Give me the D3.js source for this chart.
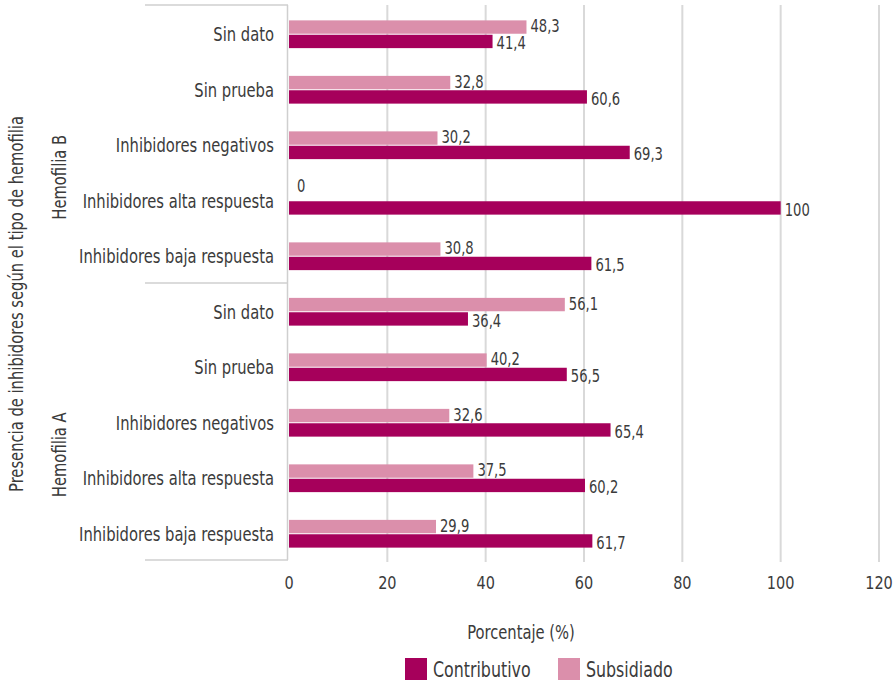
<!DOCTYPE html>
<html><head><meta charset="utf-8">
<script src="https://cdn.jsdelivr.net/npm/d3@7"></script>
<style>
html,body{margin:0;padding:0;background:#fff;}
text{font-family:"DejaVu Sans Condensed","DejaVu Sans","Roboto",sans-serif;fill:#3b3b3b;}
</style></head>
<body><svg id="c" width="895" height="683"></svg>
<script>
const groups = ["Hemofilia B", "Hemofilia A"];
const categories = ["Sin dato", "Sin prueba", "Inhibidores negativos", "Inhibidores alta respuesta", "Inhibidores baja respuesta"];
const series = ["Subsidiado", "Contributivo"];
const contributivoB = [41.4, 60.6, 69.3, 100, 61.5];
const subsidiadoB = [48.3, 32.8, 30.2, 0, 30.8];
const contributivoA = [36.4, 56.5, 65.4, 60.2, 61.7];
const subsidiadoA = [56.1, 40.2, 32.6, 37.5, 29.9];
const xTicks = [0, 20, 40, 60, 80, 100, 120];
const legendItems = ["Contributivo", "Subsidiado"];
const colors = {Contributivo: "#A6005B", Subsidiado: "#DB8FAB"};

const rows = [];
groups.forEach((g, gi) => {
  const c = gi === 0 ? contributivoB : contributivoA;
  const s = gi === 0 ? subsidiadoB : subsidiadoA;
  categories.forEach((cat, i) => rows.push({key: g + "|" + cat, group: g, cat, Contributivo: c[i], Subsidiado: s[i]}));
});

const svg = d3.select("#c");
const pL = 289, pR = 879, pT = 5, pB = 560;
const x = d3.scaleLinear().domain([0, 120]).range([pL, pR]);
const y = d3.scaleBand().domain(rows.map(r => r.key)).range([pT + 1.5, pB + 1.5]).paddingInner(0.5).paddingOuter(0.25);
const ys = d3.scaleBand().domain(series).range([0, y.bandwidth()]).paddingInner(0.07);
const fmt = v => d3.format(".1f")(v).replace(/\.0$/, "").replace(".", ",");
const SX = 0.82;

// gridlines
svg.append("g").selectAll("line").data(xTicks.filter(t => t > 0)).join("line")
  .attr("x1", d => x(d)).attr("x2", d => x(d)).attr("y1", pT).attr("y2", pB + 2)
  .attr("stroke", "#d9d9d9").attr("stroke-width", 2);

// category axis lines / bracket
const ax = svg.append("g").attr("stroke", "#cfcfcf").attr("stroke-width", 1.5);
ax.append("line").attr("x1", 287.5).attr("x2", 287.5).attr("y1", pT).attr("y2", pB);
const sepY = [pT, (pT + pB) / 2 + 0.5, pB];
ax.selectAll("line.sep").data(sepY).join("line").attr("class", "sep")
  .attr("x1", 145).attr("x2", 288).attr("y1", d => d).attr("y2", d => d);

// bars
const gRow = svg.append("g").selectAll("g").data(rows).join("g").attr("transform", d => `translate(0,${y(d.key)})`);
gRow.selectAll("rect").data(d => series.map(s => ({s, v: d[s]}))).join("rect")
  .attr("x", x(0)).attr("y", d => ys(d.s)).attr("height", ys.bandwidth())
  .attr("width", d => x(d.v) - x(0)).attr("fill", d => colors[d.s]);
gRow.selectAll("text").data(d => series.map(s => ({s, v: d[s]}))).join("text")
  .attr("transform", d => {
    const zero = d.v === 0;
    const tx = x(d.v) + (zero ? 8 : 4);
    const ty = ys(d.s) + ys.bandwidth() / 2 + (d.s === "Contributivo" ? 2 : (zero ? -8 : -1));
    return `translate(${tx},${ty}) scale(0.86,1)`;
  })
  .attr("dy", "0.35em").attr("font-size", 17).text(d => fmt(d.v));

// category labels
svg.append("g").selectAll("text").data(rows).join("text")
  .attr("transform", d => `translate(274,${y(d.key) + y.bandwidth() / 2}) scale(${SX},1)`).attr("dy", "0.35em")
  .attr("text-anchor", "end").attr("font-size", 20).text(d => d.cat);

// group labels
groups.forEach((g, gi) => {
  const keys = rows.filter(r => r.group === g).map(r => r.key);
  const cy = (y(keys[0]) + y(keys[keys.length - 1]) + y.bandwidth()) / 2 + 32;
  svg.append("text").attr("transform", `translate(59,${cy}) rotate(-90) scale(${SX},1)`).attr("dy", "0.35em")
    .attr("text-anchor", "middle").attr("font-size", 20).text(g);
});

// y axis title
svg.append("text").attr("transform", `translate(16,304) rotate(-90) scale(${SX},1)`).attr("dy", "0.35em")
  .attr("text-anchor", "middle").attr("font-size", 20).text("Presencia de inhibidores según el tipo de hemofilia");

// x tick labels
svg.append("g").selectAll("text").data(xTicks).join("text")
  .attr("transform", d => `translate(${x(d)},583) scale(0.92,1)`).attr("dy", "0.35em").attr("text-anchor", "middle")
  .attr("font-size", 17.5).text(d => d);

// x axis title
svg.append("text").attr("transform", `translate(521,632) scale(${SX},1)`).attr("dy", "0.35em").attr("text-anchor", "middle")
  .attr("font-size", 20).text("Porcentaje (%)");

// legend
const lx = [405, 558];
const lg = svg.append("g").selectAll("g").data(legendItems).join("g")
  .attr("transform", (d, i) => `translate(${lx[i]},658)`);
lg.append("rect").attr("width", 22).attr("height", 22).attr("fill", d => colors[d]);
lg.append("text").attr("transform", "translate(28,11) scale(0.8,1)").attr("dy", "0.35em").attr("font-size", 22).text(d => d);
</script></body></html>
